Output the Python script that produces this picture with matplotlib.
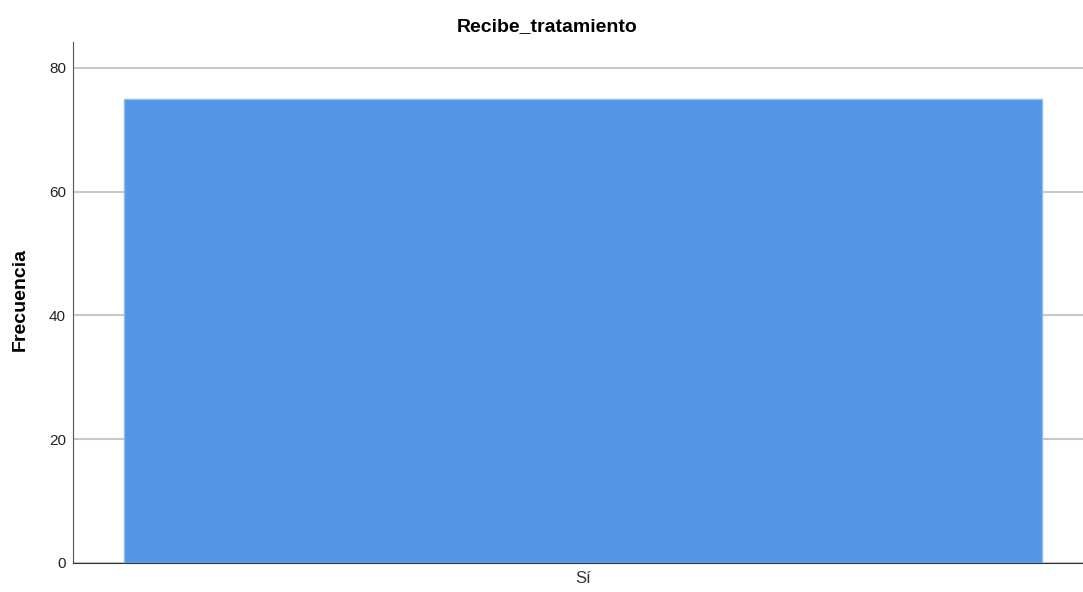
import matplotlib
matplotlib.use('Agg')
import matplotlib.pyplot as plt

categories = ['Sí']
frecuencias = [75]
y_ticks = [0, 20, 40, 60, 80]

plt.rcParams['font.family'] = ['Liberation Sans', 'DejaVu Sans']

fig = plt.figure(figsize=(10.83, 5.92), dpi=100)
ax = fig.add_axes([73 / 1083, 29 / 592, 1010 / 1083, 521 / 592])

ax.bar(range(len(categories)), frecuencias, width=1.0, color='#5495e5',
       edgecolor='#8fbcf0', linewidth=1, zorder=3)

ax.set_xlim(-0.5556, 0.5447)
ax.set_ylim(0, 84.2)
ax.set_yticks(y_ticks)
ax.set_xticks(range(len(categories)))
ax.set_xticklabels(categories, fontsize=12, color='#333333')
ax.tick_params(axis='y', length=0, labelsize=11, pad=5, colors='#222222')
ax.tick_params(axis='x', length=0, pad=6)

ax.grid(axis='y', color='#c8c8c8', linewidth=1.5, zorder=0)
for s in ['top', 'right']:
    ax.spines[s].set_visible(False)
ax.spines['left'].set_color('#555555')
ax.spines['bottom'].set_color('#333333')

ax.set_ylabel('Frecuencia', fontsize=14, fontweight='bold')
ax.yaxis.set_label_coords(-0.044, 0.505)
fig.suptitle('Recibe_tratamiento', fontsize=14, fontweight='bold',
             x=547 / 1083, y=1 - 18 / 592, va='top')

fig.savefig('out.png', dpi=100)
plt.close(fig)
